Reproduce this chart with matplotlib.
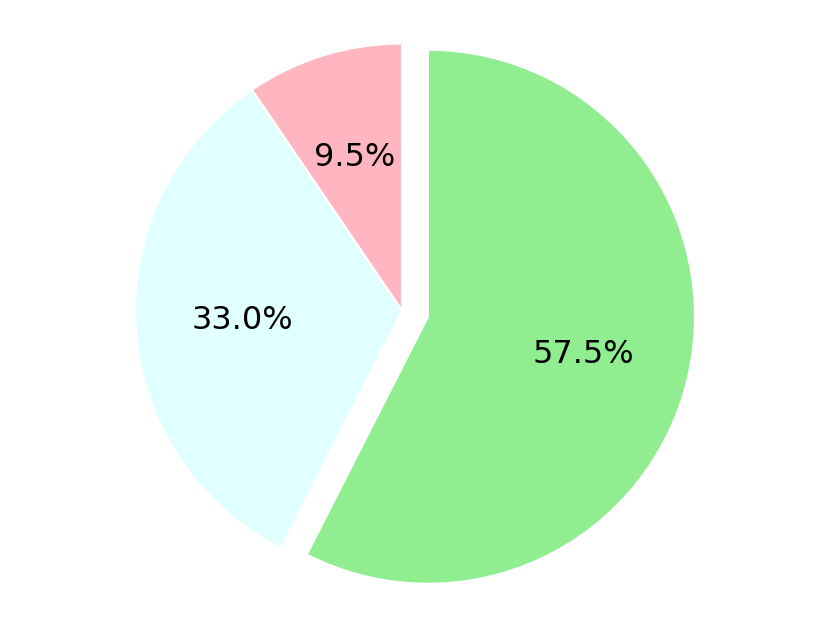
import matplotlib
matplotlib.use("Agg")
import matplotlib.pyplot as plt

# slice shares (percent) and colours, clockwise from the top
shares = [57.5, 33.0, 9.5]
colors = ["lightgreen", "lightcyan", "lightpink"]
explode = [0.1, 0, 0]

fig = plt.figure(figsize=(8.29, 6.26), dpi=100)
ax = fig.add_axes([0, 0, 1, 1])

ax.pie(
    shares,
    colors=colors,
    explode=explode,
    autopct="%1.1f%%",
    startangle=90,
    counterclock=False,
    pctdistance=0.6,
    wedgeprops={"edgecolor": "white", "linewidth": 1.5},
    textprops={"fontsize": 23},
)

# place the pie: radius 267 px, centre at (402, 310.5) px
r = 267.0
cx, cy = 402.0, 310.5
ax.set_xlim(-cx / r, (829 - cx) / r)
ax.set_ylim(-(626 - cy) / r, cy / r)
ax.set_aspect("auto")
ax.axis("off")

plt.savefig("out.png", dpi=100)
